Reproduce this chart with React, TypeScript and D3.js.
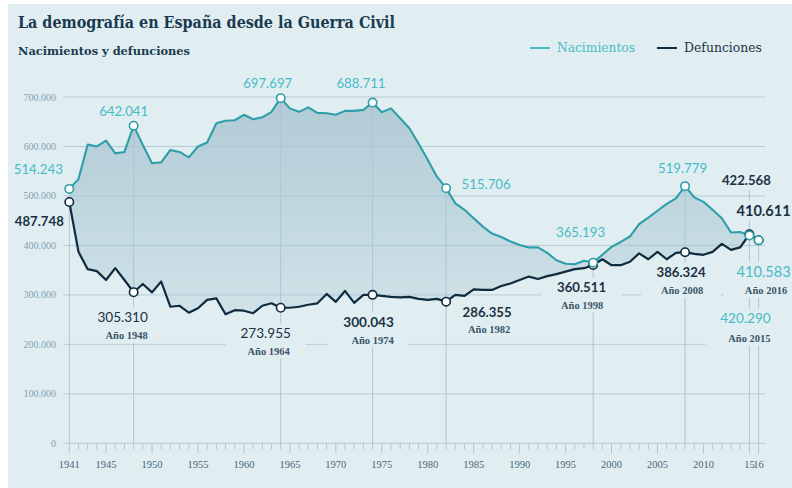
import React from "react";
import * as d3 from "d3";

// ---------- DATA ----------
const years = d3.range(1941, 2017);
const births = [
  514243, 534000, 604000, 600000, 612000, 586000, 589000, 642041, 603000, 566000,
  568000, 593000, 589000, 578000, 600000, 608000, 647000, 652000, 653000, 664000,
  655000, 659000, 670000, 697697, 677000, 670000, 679000, 668000, 667000, 664000,
  672000, 672000, 674000, 688711, 669000, 677000, 657000, 637000, 606000, 573000,
  539000, 515706, 485000, 472000, 455000, 438000, 424000, 417000, 408000, 401000,
  396000, 396000, 385000, 370000, 363000, 362000, 369000, 365193, 381000, 397000,
  407000, 418000, 443000, 456000, 470000, 484000, 495000, 519779, 497000, 488000,
  472000, 455000, 426000, 427000, 420290, 410583,
];
const deaths = [
  487748, 387000, 352000, 348000, 330000, 354000, 330000, 305310, 322000, 305000,
  327000, 276000, 278000, 264000, 273000, 290000, 293000, 261000, 269000, 268000,
  263000, 278000, 283000, 273955, 274000, 276000, 280000, 283000, 302000, 286000,
  308000, 284000, 300000, 300043, 298000, 296000, 295000, 296000, 292000, 290000,
  292000, 286355, 300000, 298000, 311000, 310000, 310000, 318000, 323000, 330000,
  337000, 332000, 338000, 342000, 347000, 352000, 354000, 360511, 372000, 360000,
  360000, 367000, 384000, 372000, 387000, 372000, 385000, 386324, 383000, 381000,
  387000, 403000, 391000, 396000, 422568, 410611,
];
const yTickValues = [0, 100000, 200000, 300000, 400000, 500000, 600000, 700000];
const xTickYears = [1941, 1945, 1950, 1955, 1960, 1965, 1970, 1975, 1980, 1985, 1990, 1995, 2000, 2005, 2010, 2015, 2016];
const xTickLabels = ["1941", "1945", "1950", "1955", "1960", "1965", "1970", "1975", "1980", "1985", "1990", "1995", "2000", "2005", "2010", "15", "16"];
const markerYears = [1941, 1948, 1964, 1974, 1982, 1998, 2008, 2015, 2016];
const seriesNames = ["Nacimientos", "Defunciones"];
const title = "La demografía en España desde la Guerra Civil";
const subtitle = "Nacimientos y defunciones";

// ---------- LAYOUT / STYLE ----------
const W = 792;
const H = 488;
const C = {
  bg: "#e0eef2",
  teal: "#2e9ea9",
  tealText: "#47bbc6",
  dark: "#0f2b3e",
  darkText: "#1c3244",
  grid: "#adc6d0",
  yText: "#7fa1b1",
  xText: "#4a6779",
  sub: "#3b5568",
  title: "#1b3a4f",
};

type Lab = {
  year: number;
  s: "b" | "d";
  dx: number;
  dy: number;
  bold: boolean;
  size: number;
  sub?: { dx: number; dy: number };
  box?: boolean;
};
const labels: Lab[] = [
  { year: 1941, s: "b", dx: -31, dy: -15, bold: false, size: 13.2 },
  { year: 1941, s: "d", dx: -30, dy: 24, bold: true, size: 13.2 },
  { year: 1948, s: "b", dx: -10, dy: -10, bold: false, size: 13.2 },
  { year: 1948, s: "d", dx: -11, dy: 29.4, bold: false, size: 13.6, sub: { dx: -7, dy: 47 } },
  { year: 1964, s: "b", dx: -13, dy: -10, bold: false, size: 13.2 },
  { year: 1964, s: "d", dx: -15, dy: 30.5, bold: false, size: 13.6, sub: { dx: -12, dy: 47 } },
  { year: 1974, s: "b", dx: -11.6, dy: -14.3, bold: false, size: 13.2 },
  { year: 1974, s: "d", dx: -4, dy: 31.8, bold: true, size: 13.6, sub: { dx: 0, dy: 49 } },
  { year: 1982, s: "b", dx: 40, dy: 1, bold: false, size: 13.2 },
  { year: 1982, s: "d", dx: 41, dy: 15, bold: true, size: 13.2, sub: { dx: 43, dy: 31.4 } },
  { year: 1998, s: "b", dx: -12.6, dy: -25.3, bold: false, size: 13.2 },
  { year: 1998, s: "d", dx: -11.6, dy: 26.7, bold: true, size: 13.2, sub: { dx: -11, dy: 44.3 } },
  { year: 2008, s: "b", dx: -2.5, dy: -12.9, bold: false, size: 13.2 },
  { year: 2008, s: "d", dx: -4, dy: 25, bold: true, size: 13.2, sub: { dx: -3, dy: 41.8 } },
  { year: 2015, s: "d", dx: -3, dy: -49.3, bold: true, size: 13.2 },
  { year: 2015, s: "b", dx: -4, dy: 88, bold: false, size: 13.6, sub: { dx: 0, dy: 106.6 } },
  { year: 2016, s: "d", dx: 5, dy: -24, bold: true, size: 14.6, box: true },
  { year: 2016, s: "b", dx: 5, dy: 36.5, bold: false, size: 14.6, sub: { dx: 7.4, dy: 53.8 } },
];

const x = d3.scaleLinear().domain([1941, 2016]).range([69.3, 758.6]);
const y = d3.scaleLinear().domain([0, 700000]).range([443.3, 97]);
const locale = d3.formatLocale({ decimal: ",", thousands: ".", grouping: [3], currency: ["", "€"] });
const fmt = locale.format(",");

const valueOf = (s: "b" | "d", yr: number) => (s === "b" ? births : deaths)[years.indexOf(yr)];

export default function App() {
  const rows = years.map((yr, i) => ({ yr, b: births[i], d: deaths[i] }));
  const area = d3
    .area<any>()
    .x((r) => x(r.yr))
    .y0((r) => y(r.d))
    .y1((r) => y(r.b))
    .curve(d3.curveLinear);
  const lineB = d3.line<any>().x((r) => x(r.yr)).y((r) => y(r.b));
  const lineD = d3.line<any>().x((r) => x(r.yr)).y((r) => y(r.d));

  const numFont = "Lato, 'Open Sans', sans-serif";
  const serif = "'DejaVu Serif', serif";
  const lserif = "'Liberation Serif', serif";

  return (
    <svg width={W} height={H} style={{ position: "absolute", left: 0, top: 0 }}>
      <defs>
        <linearGradient id="fillGrad" gradientUnits="userSpaceOnUse" x1="0" y1="95" x2="0" y2="330">
          <stop offset="0" stopColor="#b0cad5" />
          <stop offset="1" stopColor="#d2e4e9" />
        </linearGradient>
      </defs>
      <rect x={0} y={0} width={W} height={H} fill="#ffffff" />
      <rect x={8} y={4} width={W - 8} height={H - 4} fill={C.bg} />

      {/* titles */}
      <text x={18} y={28} fontFamily={serif} fontWeight={700} fontSize={16} fill={C.title} textLength={377} lengthAdjust="spacingAndGlyphs">
        {title}
      </text>
      <text x={18} y={55} fontFamily={serif} fontWeight={700} fontSize={11} fill={C.title} textLength={172} lengthAdjust="spacingAndGlyphs">
        {subtitle}
      </text>

      {/* legend */}
      <line x1={530} x2={550} y1={48} y2={48} stroke={C.tealText} strokeWidth={2} />
      <text x={557} y={52} fontFamily={serif} fontSize={12} fill={C.tealText} textLength={78} lengthAdjust="spacingAndGlyphs">
        {seriesNames[0]}
      </text>
      <line x1={657} x2={677} y1={48} y2={48} stroke={C.dark} strokeWidth={2} />
      <text x={684} y={52} fontFamily={serif} fontSize={12} fill={C.darkText} textLength={78} lengthAdjust="spacingAndGlyphs">
        {seriesNames[1]}
      </text>

      {/* area between series */}
      <path d={area(rows) || ""} fill="url(#fillGrad)" />

      {/* horizontal gridlines */}
      {yTickValues.map((v) => (
        <g key={v}>
          <line x1={63} x2={765} y1={y(v)} y2={y(v)} stroke={C.grid} strokeWidth={1} strokeOpacity={0.85} />
          <text x={56} y={y(v) + 3.5} textAnchor="end" fontFamily={lserif} fontSize={10} fill={C.yText}>
            {fmt(v)}
          </text>
        </g>
      ))}

      {/* x axis ticks */}
      {years.map((yr) => {
        const major = xTickYears.includes(yr);
        return (
          <line key={yr} x1={x(yr)} x2={x(yr)} y1={443.3} y2={443.3 + (major ? 10 : 6)} stroke={C.grid} strokeWidth={1} />
        );
      })}
      {xTickYears.map((yr, i) => (
        <text key={yr} x={x(yr)} y={468} textAnchor="middle" fontFamily={lserif} fontSize={10.5} fill={C.xText}>
          {xTickLabels[i]}
        </text>
      ))}

      {/* vertical annotation lines */}
      {markerYears.map((yr) => {
        const top = yr === 2015 ? y(valueOf("d", yr)) - 44 : y(valueOf("b", yr));
        return <line key={yr} x1={x(yr)} x2={x(yr)} y1={top} y2={443.3} stroke={C.grid} strokeWidth={1} />;
      })}

      {/* label backgrounds */}
      {labels
        .filter((l) => l.sub || l.box)
        .map((l, i) => {
          const px = x(l.year) + l.dx;
          const py = y(valueOf(l.s, l.year)) + l.dy;
          const top = py - l.size - 1;
          const bottom = l.sub ? y(valueOf(l.s, l.year)) + l.sub.dy + 3.5 : py + 4;
          return <rect key={i} x={px - 40} y={top} width={80} height={bottom - top} fill={C.bg} />;
        })}

      {/* lines */}
      <path d={lineD(rows) || ""} fill="none" stroke={C.dark} strokeWidth={2.2} strokeLinejoin="round" />
      <path d={lineB(rows) || ""} fill="none" stroke={C.teal} strokeWidth={2.1} strokeLinejoin="round" />

      {/* markers */}
      {markerYears.map((yr) => (
        <circle key={"d" + yr} cx={x(yr)} cy={y(valueOf("d", yr))} r={4.2} fill="#fff" stroke={C.dark} strokeWidth={1.6} />
      ))}
      {markerYears.map((yr) => (
        <circle key={"b" + yr} cx={x(yr)} cy={y(valueOf("b", yr))} r={4.2} fill="#fff" stroke={C.teal} strokeWidth={1.6} />
      ))}

      {/* labels */}
      {labels.map((l, i) => {
        const px = x(l.year) + l.dx;
        const py = y(valueOf(l.s, l.year)) + l.dy;
        const col = l.s === "b" ? C.tealText : C.darkText;
        return (
          <g key={i}>
            <text x={px} y={py} textAnchor="middle" fontFamily={numFont} fontWeight={l.bold ? 700 : 400} fontSize={l.size} fill={col}>
              {fmt(valueOf(l.s, l.year))}
            </text>
            {l.sub && (
              <text
                x={x(l.year) + l.sub.dx}
                y={y(valueOf(l.s, l.year)) + l.sub.dy}
                textAnchor="middle"
                fontFamily={lserif}
                fontWeight={700}
                fontSize={10.5}
                fill={C.sub}
              >
                {"Año " + l.year}
              </text>
            )}
          </g>
        );
      })}
    </svg>
  );
}
